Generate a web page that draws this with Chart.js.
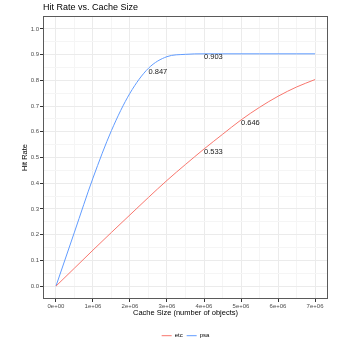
<!DOCTYPE html>
<html>
<head>
<meta charset="utf-8">
<script src="https://cdn.jsdelivr.net/npm/chart.js@4/dist/chart.umd.min.js"></script>
<style>
  html, body { margin: 0; padding: 0; background: #ffffff; }
  #wrap { width: 350px; height: 350px; }
</style>
</head>
<body>
<div id="wrap"><canvas id="c" width="350" height="350"></canvas></div>
<script>
// ---- data ----
const cacheSizes = [0, 500000, 1000000, 1500000, 2000000, 2500000, 3000000, 3500000,
                    4000000, 4500000, 5000000, 5500000, 6000000, 6500000, 7000000];
const etcHitRate = [0, 0.070, 0.140, 0.209, 0.277, 0.345, 0.411, 0.473,
                    0.533, 0.590, 0.646, 0.695, 0.738, 0.774, 0.803];
const psaHitRate = [0, 0.210, 0.420, 0.605, 0.750, 0.847, 0.892, 0.901,
                    0.903, 0.903, 0.903, 0.903, 0.903, 0.903, 0.903];
const seriesNames = ['etc', 'psa'];
const labelSeries = ['etc', 'etc', 'psa', 'psa'];
const labelX = [4000000, 5000000, 2500000, 4000000];
const labelY = [0.533, 0.646, 0.847, 0.903];
const xMajorTicks = [0, 1000000, 2000000, 3000000, 4000000, 5000000, 6000000, 7000000];
const xTickLabels = ['0e+00', '1e+06', '2e+06', '3e+06', '4e+06', '5e+06', '6e+06', '7e+06'];
const yMajorTicks = [0, 0.1, 0.2, 0.3, 0.4, 0.5, 0.6, 0.7, 0.8, 0.9, 1.0];
const yTickLabels = ['0.0', '0.1', '0.2', '0.3', '0.4', '0.5', '0.6', '0.7', '0.8', '0.9', '1.0'];

// ---- presentation ----
const FONT = "'Liberation Sans', Arial, Helvetica, sans-serif";
const colors = { etc: '#F8766D', psa: '#619CFF' };

function withMinors(majors) {
  const out = [];
  for (let i = 0; i < majors.length; i++) {
    out.push(majors[i]);
    if (i < majors.length - 1) out.push((majors[i] + majors[i + 1]) / 2);
  }
  return out;
}
const xAllTicks = withMinors(xMajorTicks);
const yAllTicks = withMinors(yMajorTicks);
const isMajor = (arr, v) => arr.some(m => Math.abs(m - v) < 1e-9 * Math.max(1, Math.abs(m)));

const toPoints = ys => cacheSizes.map((x, i) => ({ x: x, y: ys[i] }));
const seriesData = { etc: etcHitRate, psa: psaHitRate };

const datasets = seriesNames.map(name => ({
  label: name,
  data: toPoints(seriesData[name]),
  borderColor: colors[name],
  backgroundColor: colors[name],
  borderWidth: 1,
  pointRadius: 0,
  pointHoverRadius: 0,
  fill: false,
  cubicInterpolationMode: 'monotone'
}));

const borderPlugin = {
  id: 'panelBorder',
  afterDatasetsDraw(chart) {
    const { ctx, chartArea: a } = chart;
    ctx.save();
    ctx.strokeStyle = '#5a5a5a';
    ctx.lineWidth = 1;
    ctx.strokeRect(Math.round(a.left) + 0.5, Math.round(a.top) + 0.5,
                   Math.round(a.right - a.left) - 1, Math.round(a.bottom - a.top) - 1);
    ctx.restore();
  }
};

const valueLabelPlugin = {
  id: 'valueLabels',
  afterDatasetsDraw(chart) {
    const { ctx } = chart;
    const xs = chart.scales.x, ys = chart.scales.y;
    ctx.save();
    ctx.font = '7.5px ' + FONT;
    ctx.fillStyle = '#1a1a1a';
    ctx.textAlign = 'left';
    ctx.textBaseline = 'top';
    for (let i = 0; i < labelX.length; i++) {
      const px = xs.getPixelForValue(labelX[i]);
      const py = ys.getPixelForValue(labelY[i]);
      ctx.fillText(labelY[i].toFixed(3), px, py - 0.5);
    }
    ctx.restore();
  }
};

new Chart(document.getElementById('c'), {
  type: 'line',
  data: { datasets: datasets },
  options: {
    responsive: false,
    animation: false,
    devicePixelRatio: 1,
    layout: { padding: { left: 0, right: 22, top: 0, bottom: 1.3 } },
    plugins: {
      title: {
        display: true,
        text: 'Hit Rate vs. Cache Size',
        align: 'start',
        fullSize: false,
        color: '#000000',
        font: { family: FONT, size: 9, weight: 'normal' },
        padding: { top: 2, bottom: 3.2 }
      },
      legend: {
        display: true,
        position: 'bottom',
        fullSize: false,
        align: 'center',
        labels: {
          usePointStyle: true,
          pointStyle: 'line',
          pointStyleWidth: 10,
          boxHeight: 6,
          padding: 4,
          color: '#000000',
          font: { family: FONT, size: 6 }
        }
      },
      tooltip: { enabled: false }
    },
    scales: {
      x: {
        type: 'linear',
        min: -350000,
        max: 7350000,
        afterBuildTicks(scale) { scale.ticks = xAllTicks.map(v => ({ value: v })); },
        afterFit(scale) { scale.height = 29.7; },
        ticks: {
          autoSkip: false,
          maxRotation: 0,
          minRotation: 0,
          padding: 1,
          color: '#4D4D4D',
          font: { family: FONT, size: 6 },
          callback(value) {
            const idx = xMajorTicks.findIndex(m => Math.abs(m - value) < 1);
            return idx >= 0 ? xTickLabels[idx] : '';
          }
        },
        grid: {
          drawOnChartArea: true,
          tickLength: 3,
          color: ctx => isMajor(xMajorTicks, ctx.tick.value) ? '#EBEBEB' : '#F5F5F5',
          tickColor: ctx => isMajor(xMajorTicks, ctx.tick.value) ? '#333333' : 'rgba(0,0,0,0)',
          lineWidth: 1
        },
        border: { display: false },
        title: {
          display: true,
          text: 'Cache Size (number of objects)',
          color: '#000000',
          font: { family: FONT, size: 7.5 },
          padding: { top: 0, bottom: 11 }
        }
      },
      y: {
        type: 'linear',
        min: -0.05,
        max: 1.05,
        afterBuildTicks(scale) { scale.ticks = yAllTicks.map(v => ({ value: v })); },
        afterFit(scale) { scale.width = 43; },
        ticks: {
          autoSkip: false,
          padding: 1,
          color: '#4D4D4D',
          font: { family: FONT, size: 6 },
          callback(value) {
            const idx = yMajorTicks.findIndex(m => Math.abs(m - value) < 1e-6);
            return idx >= 0 ? yTickLabels[idx] : '';
          }
        },
        grid: {
          drawOnChartArea: true,
          tickLength: 3,
          color: ctx => isMajor(yMajorTicks, ctx.tick.value) ? '#EBEBEB' : '#F5F5F5',
          tickColor: ctx => isMajor(yMajorTicks, ctx.tick.value) ? '#333333' : 'rgba(0,0,0,0)',
          lineWidth: 1
        },
        border: { display: false },
        title: {
          display: true,
          text: 'Hit Rate',
          color: '#000000',
          font: { family: FONT, size: 7.5 },
          padding: { top: 20.5, bottom: 0 }
        }
      }
    }
  },
  plugins: [borderPlugin, valueLabelPlugin]
});
</script>
</body>
</html>
